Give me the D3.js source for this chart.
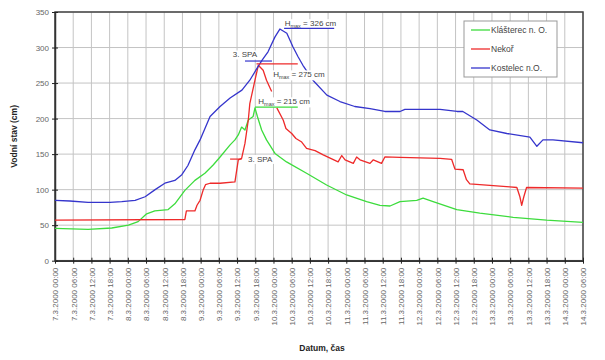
<!DOCTYPE html>
<html><head><meta charset="utf-8">
<script src="https://cdn.jsdelivr.net/npm/d3@7"></script>
<style>
body{margin:0;background:#fff;}
text{font-family:"Liberation Sans",Arial,sans-serif;}
</style></head>
<body><svg id="c" width="605" height="360"></svg>
<script>
// hours since 7.3.2000 00:00
const tickHours = d3.range(0, 175, 6);
const yTicks = [0,50,100,150,200,250,300,350];
const seriesNames = ["Klášterec n. O.", "Nekoř", "Kostelec n.O."];
const seriesColors = ["#3ddc3d", "#ee2a2a", "#3535cc"];

const klasterecT = [0,10.9,18.7,24.2,27.4,30.2,32.9,37.3,39.5,42.8,46.1,49.4,52.2,54.4,57.7,59.3,60.4,61.5,62.6,63.7,65.3,65.9,66.7,68.1,69.7,72.5,76.3,82.9,89.5,96.1,102.7,107.1,110.4,113.7,119.2,121.3,124.6,132.4,140,151,162,174];
const klasterecV = [45.6,44,46,50,55,66,70,72,80,99,113,123,135,146,163,170,177,188,184,198,203,215,203,184,170,151,139,123,106.5,92.5,83,78,77,83,85,88,83,72,67,61,57,54];

const nekorT = [0,42.8,43.3,46.1,46.8,47.8,48.8,49.6,51.1,54.4,59.3,60.4,61.5,62.6,63.7,64.2,65.9,67,68.6,69.7,71.4,72.2,73.1,75.2,76.1,78,79.4,81.3,82.9,85.7,88.4,93.3,94.5,95.6,98.3,99.4,100.5,103.8,104.9,107.6,108.7,113.7,126.9,130.7,131.8,134.5,135.6,136.7,149.9,152.2,153.2,153.8,154.5,155.4,174];
const nekorV = [57,58,70,70,78,85,99,107,109,109,111,142,144,165,198,221,254,275,268,254,238,null,215,198,186,179,172,167,158,155,149,139,148,142,137,146,142,137,142,137,146,145.5,144,142.7,129,128,114,108,104,103,90,78,90,103,102];

const kostelecT = [0,4.9,10.9,18.1,22,26.4,29.7,33,36.2,39.5,41.8,43.8,46.1,47.8,51.1,54.4,57.7,61.6,64.2,66.6,68.2,70.2,72.5,74.1,76.4,78.4,80.1,81.7,85,89.6,93.9,98.8,103.8,108.7,113.7,115.3,126.9,132.5,134.4,139,143.3,148.9,156.5,158.8,160.8,164.1,174];
const kostelecV = [85,84,82,82,83,85,90,100,109,113,121,134,156,170,203,217,229,240,254,271,282,294,315,326,320,301,287,275,254,233,224,217,214,210,210,213,213,210,210,198,184,179,174,161,170,170,166];

// annotation lines: [series index, value, from hour, to hour]
const annLines = [[2,327,75.5,92],[2,281,62.6,71.5],[1,277,66.4,80],[0,216,65.9,80],[1,143,57.7,61.5]];
const annTexts = [
  {pre:"H", sub:"max", post:" = 326 cm", t:75.7, v:330},
  {pre:"3. SPA", sub:"", post:"", t:58.6, v:286},
  {pre:"H", sub:"max", post:" = 275 cm", t:71.9, v:258},
  {pre:"H", sub:"max", post:" = 215 cm", t:67, v:220},
  {pre:"3. SPA", sub:"", post:"", t:63.6, v:139}
];

const svg = d3.select("#c");
const L=55, R=583, T=12, B=260.7;
const x = d3.scaleLinear().domain([0,174]).range([L,R]);
const y = d3.scaleLinear().domain([0,350]).range([B,T]);

// gridlines
svg.append("g").selectAll("line").data(tickHours).join("line")
  .attr("x1",d=>x(d)).attr("x2",d=>x(d)).attr("y1",T).attr("y2",B)
  .attr("stroke","#c4c4c4").attr("stroke-width",1);
svg.append("g").selectAll("line").data(yTicks).join("line")
  .attr("x1",L).attr("x2",R).attr("y1",d=>y(d)).attr("y2",d=>y(d))
  .attr("stroke","#c4c4c4").attr("stroke-width",1);

// border
svg.append("rect").attr("x",L).attr("y",T).attr("width",R-L).attr("height",B-T)
  .attr("fill","none").attr("stroke","#444").attr("stroke-width",1.5);

// axes
const fmt = h => { const d = 7+Math.floor(h/24), hh = h%24; return d+".3.2000 "+(hh<10?"0":"")+hh+":00"; };
const xa = svg.append("g").attr("transform",`translate(0,${B})`)
  .call(d3.axisBottom(x).tickValues(tickHours).tickFormat(fmt).tickSize(3).tickSizeOuter(0));
xa.select(".domain").attr("stroke","#333").attr("stroke-width",1.5);
xa.selectAll(".tick line").attr("stroke","#222").attr("y1",-3).attr("y2",3);
xa.selectAll(".tick text").attr("fill","#666").attr("font-size",8)
  .attr("transform","rotate(-90)").attr("text-anchor","end").attr("dy","0.35em").attr("x",-7).attr("y",0);

const ya = svg.append("g").attr("transform",`translate(${L},0)`)
  .call(d3.axisLeft(y).tickValues(yTicks).tickSize(3).tickSizeOuter(0));
ya.select(".domain").attr("stroke","#333").attr("stroke-width",1.5);
ya.selectAll(".tick line").attr("stroke","#222").attr("x1",-3).attr("x2",3);
ya.selectAll(".tick text").attr("fill","#666").attr("font-size",8).attr("x",-6);

// axis titles
svg.append("text").attr("transform",`translate(17,${(T+B)/2}) rotate(-90)`)
  .attr("text-anchor","middle").attr("font-size",8.5).attr("font-weight","bold").attr("fill","#222")
  .text("Vodní stav (cm)");
svg.append("text").attr("x",322).attr("y",351).attr("text-anchor","middle")
  .attr("font-size",8.5).attr("font-weight","bold").attr("fill","#222").text("Datum, čas");

// series
const series = [[klasterecT,klasterecV],[nekorT,nekorV],[kostelecT,kostelecV]];
const line = d3.line().defined(d=>d[1]!==null).x(d=>x(d[0])).y(d=>y(d[1]));
series.forEach((s,i)=>{
  const pts = s[0].map((t,j)=>[t,s[1][j]]);
  svg.append("path").datum(pts).attr("d",line).attr("fill","none")
    .attr("stroke",seriesColors[i]).attr("stroke-width",1.3).attr("stroke-linejoin","round");
});

// annotations
annTexts.forEach(a=>{
  const g = svg.append("g");
  const t = g.append("text").attr("x",x(a.t)).attr("y",y(a.v)).attr("font-size",8).attr("fill","#444");
  t.append("tspan").text(a.pre);
  if(a.sub){ t.append("tspan").attr("font-size",5.5).attr("dy",2).text(a.sub);
             t.append("tspan").attr("dy",-2).text(a.post); }
  const bb = t.node().getBBox();
  g.insert("rect","text").attr("x",bb.x-1).attr("y",bb.y).attr("width",bb.width+2).attr("height",bb.height).attr("fill","#fff");
});
annLines.forEach(a=>{
  svg.append("line").attr("x1",x(a[2])).attr("x2",x(a[3])).attr("y1",y(a[1])).attr("y2",y(a[1]))
    .attr("stroke",seriesColors[a[0]]).attr("stroke-width",1.2);
});

// legend
const lg = svg.append("g");
lg.append("rect").attr("x",464).attr("y",21).attr("width",93).attr("height",56)
  .attr("fill","#fff").attr("stroke","#999").attr("stroke-width",1);
seriesNames.forEach((n,i)=>{
  const yy = 30 + i*19;
  lg.append("line").attr("x1",471).attr("x2",490).attr("y1",yy).attr("y2",yy)
    .attr("stroke",seriesColors[i]).attr("stroke-width",1.3);
  lg.append("text").attr("x",491).attr("y",yy).attr("dy","0.35em").attr("font-size",8.5)
    .attr("fill","#444").text(n);
});
</script></body></html>
